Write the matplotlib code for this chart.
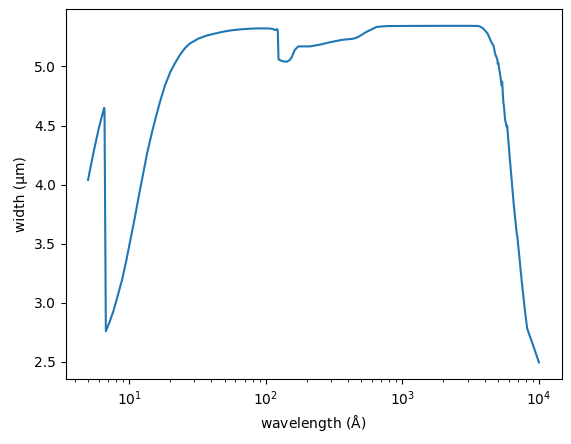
import numpy as np
import matplotlib
matplotlib.use('Agg')
import matplotlib.pyplot as plt

# wavelength (Angstrom) and width (micron)
wavelength = [5.0, 5.5, 6.0, 6.56, 6.6, 6.75, 7.2, 7.67, 8.2, 8.85, 9.5, 10.2,
              11.0, 11.7, 12.6, 13.5, 14.7, 15.96, 16.9, 18.3, 19.95, 21.7,
              23.6, 25.6, 27.9, 32.0, 37.0, 43.0, 49.0, 56.0, 64.9, 75.0,
              86.0, 104.7, 112.0, 117.0, 120.0, 121.7,
              122.5, 124.0, 132.0, 142.6, 150.0, 155.0, 163.0, 173.0, 190.0,
              211.0, 250.0, 295.0, 360.0, 438.0, 476.0, 540.0, 649.0, 769.0,
              1000.0, 2000.0, 3000.0, 3600.0, 3750.0, 3918.0, 4200.0, 4510.0,
              4637.0, 4800.0, 4955.0, 5000.0, 5040.0, 5200.0, 5336.0, 5380.0,
              5483.0, 5550.0, 5650.0, 5800.0, 5850.0, 6140.0, 6565.0, 6870.0,
              6950.0, 7470.0, 7900.0, 8210.0, 9000.0, 10000.0]
width = [4.04, 4.28, 4.48, 4.65, 4.63, 2.76, 2.84, 2.93, 3.05, 3.19, 3.35, 3.53,
         3.72, 3.89, 4.08, 4.26, 4.445, 4.605, 4.71, 4.84, 4.95, 5.03,
         5.10, 5.155, 5.195, 5.235, 5.262, 5.28, 5.295, 5.306, 5.314, 5.319,
         5.322, 5.322, 5.318, 5.308, 5.316, 5.312,
         5.30, 5.06, 5.045, 5.04, 5.055, 5.08, 5.14, 5.17, 5.17,
         5.17, 5.185, 5.205, 5.225, 5.235, 5.25, 5.29, 5.335, 5.342,
         5.343, 5.344, 5.344, 5.343, 5.335, 5.32, 5.28, 5.20,
         5.18, 5.10, 5.06, 5.02, 5.03, 4.93, 4.84, 4.87,
         4.70, 4.66, 4.55, 4.49, 4.50, 4.20, 3.81, 3.59,
         3.56, 3.19, 2.93, 2.78, 2.65, 2.495]

fig = plt.figure(figsize=(5.71, 4.44), dpi=100)
ax = fig.add_axes([65.5 / 571, 64.7 / 444, 496 / 571, 370.3 / 444])

ax.plot(wavelength, width, color='C0', linewidth=1.5)
ax.set_xscale('log')
ax.set_xlabel(r'wavelength ($\mathrm{\AA}$)')
ax.set_ylabel('width (µm)')

fig.savefig('out.png', dpi=100)
